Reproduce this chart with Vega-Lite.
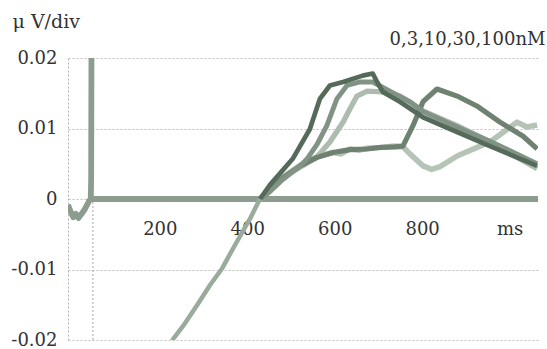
{
  "$schema": "https://vega.github.io/schema/vega-lite/v6.json",
  "width": 470,
  "height": 282,
  "autosize": {"type": "none"},
  "padding": {"left": 68, "top": 58, "right": 9, "bottom": 9},
  "background": "white",
  "config": {"view": {"stroke": null}, "font": "DejaVu Serif"},
  "layer": [
    {
      "data": {"values": [{"t": 47}]},
      "mark": {"type": "rule", "strokeDash": [2, 2], "color": "#a8a8a8", "strokeWidth": 1},
      "encoding": {
        "x": {"field": "t", "type": "quantitative", "scale": {"domain": [-10, 1065], "nice": false, "zero": false}}
      }
    },
    {
      "data": {"values": [
        {"s": "a_base", "t": 42, "v": 0}, {"s": "a_base", "t": 1065, "v": 0},
        {"s": "b_art", "t": -10, "v": -0.0008}, {"s": "b_art", "t": -4, "v": -0.0018}, {"s": "b_art", "t": 2, "v": -0.0026}, {"s": "b_art", "t": 8, "v": -0.0021}, {"s": "b_art", "t": 14, "v": -0.0027}, {"s": "b_art", "t": 20, "v": -0.0022}, {"s": "b_art", "t": 27, "v": -0.0016}, {"s": "b_art", "t": 33, "v": -0.0009}, {"s": "b_art", "t": 39, "v": -0.0002}, {"s": "b_art", "t": 42, "v": 0.0}, {"s": "b_art", "t": 43, "v": 0.003}, {"s": "b_art", "t": 44, "v": 0.03},

        {"s": "c_dip", "t": 429, "v": 0}, {"s": "c_dip", "t": 452, "v": 0.0012}, {"s": "c_dip", "t": 482, "v": 0.0031}, {"s": "c_dip", "t": 521, "v": 0.0048}, {"s": "c_dip", "t": 560, "v": 0.006}, {"s": "c_dip", "t": 596, "v": 0.0066}, {"s": "c_dip", "t": 615, "v": 0.0064}, {"s": "c_dip", "t": 635, "v": 0.0071}, {"s": "c_dip", "t": 655, "v": 0.0069}, {"s": "c_dip", "t": 674, "v": 0.0072}, {"s": "c_dip", "t": 703, "v": 0.0073}, {"s": "c_dip", "t": 738, "v": 0.0075}, {"s": "c_dip", "t": 756, "v": 0.0074}, {"s": "c_dip", "t": 772, "v": 0.0064}, {"s": "c_dip", "t": 802, "v": 0.0047}, {"s": "c_dip", "t": 822, "v": 0.0042}, {"s": "c_dip", "t": 841, "v": 0.0046}, {"s": "c_dip", "t": 880, "v": 0.0061}, {"s": "c_dip", "t": 955, "v": 0.0081}, {"s": "c_dip", "t": 1017, "v": 0.0109}, {"s": "c_dip", "t": 1040, "v": 0.0102}, {"s": "c_dip", "t": 1063, "v": 0.0105},

        {"s": "d_e3", "t": 429, "v": 0}, {"s": "d_e3", "t": 452, "v": 0.0013}, {"s": "d_e3", "t": 482, "v": 0.0031}, {"s": "d_e3", "t": 521, "v": 0.0045}, {"s": "d_e3", "t": 560, "v": 0.006}, {"s": "d_e3", "t": 589, "v": 0.0081}, {"s": "d_e3", "t": 619, "v": 0.0109}, {"s": "d_e3", "t": 635, "v": 0.0128}, {"s": "d_e3", "t": 651, "v": 0.0146}, {"s": "d_e3", "t": 674, "v": 0.0153}, {"s": "d_e3", "t": 710, "v": 0.0152}, {"s": "d_e3", "t": 749, "v": 0.0146}, {"s": "d_e3", "t": 802, "v": 0.0125}, {"s": "d_e3", "t": 880, "v": 0.0104}, {"s": "d_e3", "t": 955, "v": 0.0081}, {"s": "d_e3", "t": 1063, "v": 0.0043},

        {"s": "e_late", "t": 429, "v": 0}, {"s": "e_late", "t": 452, "v": 0.0011}, {"s": "e_late", "t": 482, "v": 0.003}, {"s": "e_late", "t": 521, "v": 0.0047}, {"s": "e_late", "t": 560, "v": 0.0059}, {"s": "e_late", "t": 596, "v": 0.0066}, {"s": "e_late", "t": 635, "v": 0.007}, {"s": "e_late", "t": 674, "v": 0.0071}, {"s": "e_late", "t": 703, "v": 0.0073}, {"s": "e_late", "t": 738, "v": 0.0074}, {"s": "e_late", "t": 756, "v": 0.0075}, {"s": "e_late", "t": 779, "v": 0.0104}, {"s": "e_late", "t": 802, "v": 0.0138}, {"s": "e_late", "t": 834, "v": 0.0156}, {"s": "e_late", "t": 880, "v": 0.0146}, {"s": "e_late", "t": 925, "v": 0.0132}, {"s": "e_late", "t": 978, "v": 0.0109}, {"s": "e_late", "t": 1031, "v": 0.0089}, {"s": "e_late", "t": 1063, "v": 0.0071},

        {"s": "f_e2", "t": 429, "v": 0}, {"s": "f_e2", "t": 452, "v": 0.0011}, {"s": "f_e2", "t": 482, "v": 0.0028}, {"s": "f_e2", "t": 521, "v": 0.0047}, {"s": "f_e2", "t": 537, "v": 0.0057}, {"s": "f_e2", "t": 560, "v": 0.0078}, {"s": "f_e2", "t": 582, "v": 0.0104}, {"s": "f_e2", "t": 605, "v": 0.0142}, {"s": "f_e2", "t": 628, "v": 0.0161}, {"s": "f_e2", "t": 658, "v": 0.0166}, {"s": "f_e2", "t": 687, "v": 0.0166}, {"s": "f_e2", "t": 726, "v": 0.0153}, {"s": "f_e2", "t": 772, "v": 0.0138}, {"s": "f_e2", "t": 802, "v": 0.0124}, {"s": "f_e2", "t": 880, "v": 0.0102}, {"s": "f_e2", "t": 955, "v": 0.0082}, {"s": "f_e2", "t": 1063, "v": 0.005},

        {"s": "g_e1", "t": 429, "v": 0}, {"s": "g_e1", "t": 452, "v": 0.002}, {"s": "g_e1", "t": 504, "v": 0.0057}, {"s": "g_e1", "t": 543, "v": 0.0099}, {"s": "g_e1", "t": 566, "v": 0.0142}, {"s": "g_e1", "t": 589, "v": 0.0161}, {"s": "g_e1", "t": 619, "v": 0.0166}, {"s": "g_e1", "t": 664, "v": 0.0175}, {"s": "g_e1", "t": 687, "v": 0.0178}, {"s": "g_e1", "t": 697, "v": 0.0166}, {"s": "g_e1", "t": 710, "v": 0.0152}, {"s": "g_e1", "t": 749, "v": 0.0138}, {"s": "g_e1", "t": 802, "v": 0.0116}, {"s": "g_e1", "t": 880, "v": 0.0095}, {"s": "g_e1", "t": 955, "v": 0.0075}, {"s": "g_e1", "t": 1063, "v": 0.0047},

        {"s": "h_ramp", "t": 205, "v": -0.0225}, {"s": "h_ramp", "t": 230, "v": -0.0199}, {"s": "h_ramp", "t": 258, "v": -0.0176}, {"s": "h_ramp", "t": 287, "v": -0.0149}, {"s": "h_ramp", "t": 315, "v": -0.0122}, {"s": "h_ramp", "t": 342, "v": -0.0099}, {"s": "h_ramp", "t": 365, "v": -0.0073}, {"s": "h_ramp", "t": 386, "v": -0.005}, {"s": "h_ramp", "t": 408, "v": -0.0026}, {"s": "h_ramp", "t": 429, "v": 0}
      ]},
      "mark": {"type": "line", "clip": true, "strokeJoin": "round", "strokeCap": "butt"},
      "encoding": {
        "x": {
          "field": "t", "type": "quantitative",
          "scale": {"domain": [-10, 1065], "nice": false, "zero": false},
          "axis": {
            "values": [200, 400, 600, 800, 1000],
            "labelExpr": "datum.value == 1000 ? 'ms' : datum.label",
            "offset": -141,
            "domain": false, "ticks": false, "grid": false,
            "labelFont": "DejaVu Serif", "labelFontSize": 18, "labelColor": "#333333",
            "labelPadding": 21, "labelBaseline": "top",
            "title": "0,3,10,30,100nM",
            "titleFont": "DejaVu Serif", "titleFontSize": 18, "titleFontWeight": "normal", "titleColor": "#333333",
            "titleX": 477, "titleY": -155, "titleAlign": "right", "titleBaseline": "alphabetic", "titleAnchor": null
          }
        },
        "y": {
          "field": "v", "type": "quantitative",
          "scale": {"domain": [-0.02, 0.02], "nice": false, "zero": false},
          "axis": {
            "values": [-0.02, -0.01, 0, 0.01, 0.02],
            "labelExpr": "datum.value == 0 ? '0' : (datum.value < 0 ? '-' : '') + format(abs(datum.value), '.2f')",
            "domain": true, "domainDash": [2, 2], "domainColor": "#b0b0b0", "domainWidth": 1,
            "ticks": false,
            "grid": true, "gridDash": [2, 2], "gridColor": "#c0c0c0", "gridWidth": 1,
            "labelFont": "DejaVu Serif", "labelFontSize": 18, "labelColor": "#333333", "labelPadding": 11,
            "title": "μ V/div",
            "titleFont": "DejaVu Serif", "titleFontSize": 19, "titleFontWeight": "normal", "titleColor": "#333333",
            "titleAngle": 0, "titleX": -56, "titleY": -31, "titleAlign": "left", "titleBaseline": "alphabetic", "titleAnchor": null
          }
        },
        "color": {
          "field": "s", "type": "nominal", "legend": null,
          "scale": {
            "domain": ["a_base", "b_art", "c_dip", "d_e3", "e_late", "f_e2", "g_e1", "h_ramp"],
            "range": ["#8c9c8e", "#8c9c8e", "#b6c4b8", "#adbcaf", "#6f8272", "#819384", "#566a5a", "#9aab9c"]
          }
        },
        "strokeWidth": {
          "field": "s", "type": "nominal", "legend": null,
          "scale": {
            "domain": ["a_base", "b_art", "c_dip", "d_e3", "e_late", "f_e2", "g_e1", "h_ramp"],
            "range": [6, 4.5, 3.5, 3.5, 3, 3, 2.5, 5.5]
          }
        }
      }
    }
  ]
}
